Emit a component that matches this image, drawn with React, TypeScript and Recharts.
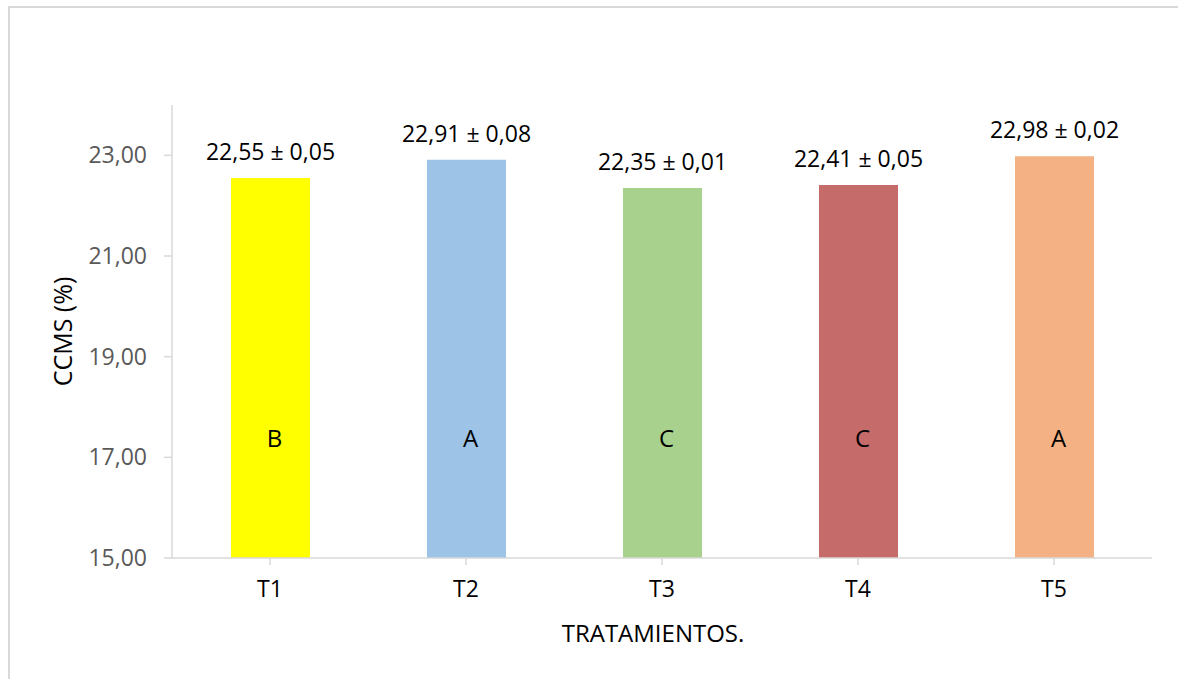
import React from 'react';
import { BarChart, Bar, XAxis, YAxis, Cell, LabelList, Label } from 'recharts';

const categories = ['T1', 'T2', 'T3', 'T4', 'T5'];
const means = [22.55, 22.91, 22.35, 22.41, 22.98];
const errors = [0.05, 0.08, 0.01, 0.05, 0.02];
const groups = ['B', 'A', 'C', 'C', 'A'];
const colors = ['#FFFF00', '#9DC3E6', '#A9D18E', '#C56B6A', '#F4B183'];
const yTicks = [15, 17, 19, 21, 23];

const data = categories.map((c, i) => ({
  name: c,
  mean: means[i],
  err: errors[i],
  group: groups[i],
}));

const fmt = (v: number) => v.toFixed(2).replace('.', ',');
const FONT = '"Open Sans", sans-serif';

const ValueLabel = (props: any) => {
  const { x, y, width, index } = props;
  const d = data[index];
  return (
    <text
      x={x + width / 2}
      y={y - 18}
      textAnchor="middle"
      fontFamily={FONT}
      fontSize={23}
      fill="#000"
    >
      {`${fmt(d.mean)} ± ${fmt(d.err)}`}
    </text>
  );
};

const GroupLabel = (props: any) => {
  const { x, y, width, height, index } = props;
  const d = data[index];
  return (
    <text
      x={x + width / 2 + 4}
      y={y + height - 121}
      textAnchor="middle"
      dominantBaseline="central"
      fontFamily={FONT}
      fontSize={24}
      fill="#000"
    >
      {d.group}
    </text>
  );
};

const YTitle = (props: any) => {
  const { viewBox } = props;
  const cy = viewBox.y + viewBox.height / 2;
  const cx = 62;
  return (
    <text
      x={cx}
      y={cy}
      transform={`rotate(-90, ${cx}, ${cy})`}
      textAnchor="middle"
      dominantBaseline="central"
      fontFamily={FONT}
      fontSize={25}
      fill="#000"
    >
      CCMS (%)
    </text>
  );
};

export default function App() {
  return (
    <div
      style={{
        position: 'absolute',
        left: 0,
        top: 0,
        width: 1178,
        height: 679,
        overflow: 'hidden',
        background: '#fff',
      }}
    >
      <div
        style={{
          position: 'absolute',
          left: 8,
          top: 6,
          width: 1200,
          height: 700,
          border: '2px solid #D9D9D9',
          boxSizing: 'border-box',
        }}
      />
      <div style={{ position: 'absolute', left: 0, top: 0 }}>
        <BarChart
          width={1178}
          height={679}
          data={data}
          margin={{ top: 105, right: 26, bottom: 0, left: 0 }}
          barSize={79}
        >
          <XAxis
            dataKey="name"
            height={121}
            stroke="#D9D9D9"
            strokeWidth={1.5}
            tickSize={7}
            tickMargin={16}
            tick={{ fill: '#000', fontFamily: FONT, fontSize: 23 }}
          >
            <Label
              value="TRATAMIENTOS."
              position="insideBottom"
              offset={37}
              dx={-9}
              fill="#000"
              fontFamily={FONT}
              fontSize={24}
            />
          </XAxis>
          <YAxis
            width={172}
            domain={[15, 24]}
            ticks={yTicks}
            allowDataOverflow
            stroke="#D9D9D9"
            strokeWidth={1.5}
            tickSize={8}
            tickMargin={17}
            tickFormatter={(v: number) => fmt(v)}
            tick={{ fill: '#595959', fontFamily: FONT, fontSize: 23 }}
          >
            <Label content={<YTitle />} />
          </YAxis>
          <Bar dataKey="mean" isAnimationActive={false}>
            {data.map((d, i) => (
              <Cell key={d.name} fill={colors[i]} />
            ))}
            <LabelList dataKey="mean" content={<ValueLabel />} />
            <LabelList dataKey="group" content={<GroupLabel />} />
          </Bar>
        </BarChart>
      </div>
    </div>
  );
}
